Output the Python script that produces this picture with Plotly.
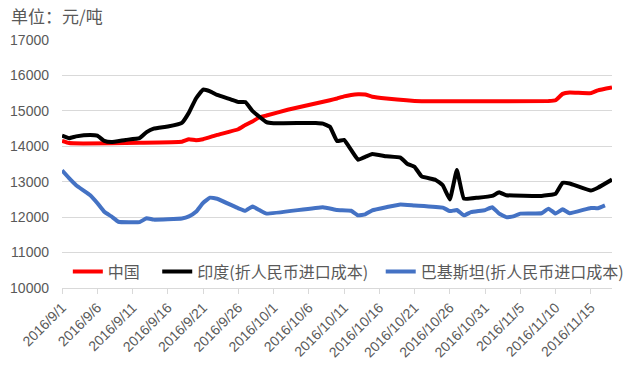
import plotly.graph_objects as go
import pandas as pd

# China
china_dates = ["2016-09-01","2016-09-02","2016-09-04","2016-09-12","2016-09-18","2016-09-19","2016-09-20",
               "2016-09-21","2016-09-23","2016-09-26","2016-09-27","2016-09-28","2016-09-29","2016-09-30",
               "2016-10-03","2016-10-09","2016-10-10","2016-10-11","2016-10-12","2016-10-13","2016-10-14",
               "2016-10-15","2016-10-17","2016-10-22","2016-10-28","2016-11-09","2016-11-10","2016-11-11",
               "2016-11-12","2016-11-15","2016-11-16","2016-11-18"]
china_vals = [14150,14090,14080,14100,14130,14200,14170,
              14200,14320,14480,14600,14700,14820,14870,
              15030,15300,15350,15410,15450,15470,15460,
              15400,15350,15270,15270,15280,15300,15480,
              15520,15500,15580,15660]

# India
india_dates = ["2016-09-01","2016-09-02","2016-09-03","2016-09-05","2016-09-06","2016-09-07","2016-09-08",
               "2016-09-10","2016-09-12","2016-09-13","2016-09-14","2016-09-16","2016-09-18","2016-09-19",
               "2016-09-20","2016-09-21","2016-09-22","2016-09-23","2016-09-25","2016-09-26","2016-09-27",
               "2016-09-28","2016-09-30","2016-10-01","2016-10-07","2016-10-08","2016-10-09","2016-10-10",
               "2016-10-11","2016-10-12","2016-10-13","2016-10-14","2016-10-15","2016-10-17","2016-10-19",
               "2016-10-20","2016-10-21","2016-10-22","2016-10-24","2016-10-25","2016-10-26","2016-10-27",
               "2016-10-28","2016-10-30","2016-11-01","2016-11-02","2016-11-03","2016-11-08","2016-11-10",
               "2016-11-11","2016-11-12","2016-11-15","2016-11-16","2016-11-18"]
india_vals = [14300,14230,14280,14320,14300,14150,14120,
              14180,14230,14400,14500,14560,14660,14950,
              15350,15600,15550,15450,15320,15250,15250,
              15000,14680,14650,14660,14640,14550,14150,
              14180,13900,13620,13700,13780,13720,13680,
              13500,13420,13150,13050,12900,12500,13330,
              12520,12550,12600,12700,12620,12600,12660,
              12970,12950,12750,12830,13060]

# Pakistan
pak_dates = ["2016-09-01","2016-09-02","2016-09-03","2016-09-05","2016-09-06","2016-09-07","2016-09-08",
             "2016-09-09","2016-09-12","2016-09-13","2016-09-14","2016-09-18","2016-09-19","2016-09-20",
             "2016-09-21","2016-09-22","2016-09-23","2016-09-26","2016-09-27","2016-09-28","2016-09-29",
             "2016-09-30","2016-10-08","2016-10-10","2016-10-12","2016-10-13","2016-10-14","2016-10-15",
             "2016-10-17","2016-10-19","2016-10-21","2016-10-25","2016-10-26","2016-10-27","2016-10-28",
             "2016-10-29","2016-10-31","2016-11-01","2016-11-02","2016-11-03","2016-11-04","2016-11-05",
             "2016-11-08","2016-11-09","2016-11-10","2016-11-11","2016-11-12","2016-11-15","2016-11-16",
             "2016-11-17"]
pak_vals = [13320,13100,12900,12620,12400,12150,12020,
            11870,11860,11970,11930,11960,12020,12150,
            12400,12550,12520,12250,12180,12300,12200,
            12100,12280,12200,12180,12050,12080,12190,
            12280,12360,12330,12270,12170,12200,12050,
            12140,12200,12280,12100,12000,12020,12100,
            12110,12240,12100,12220,12110,12260,12250,
            12330]

names = ["中国", "印度(折人民币进口成本)", "巴基斯坦(折人民币进口成本)"]
colors = ["#FF0000", "#000000", "#4472C4"]

y_ticks = [10000, 11000, 12000, 13000, 14000, 15000, 16000, 17000]
x_tick_dates = pd.date_range("2016-09-01", "2016-11-15", freq="5D")
x_tick_text = [f"{d.year}/{d.month}/{d.day}" for d in x_tick_dates]

FONT = "Liberation Sans, Noto Sans CJK SC, sans-serif"
CJK = "Noto Sans CJK SC, sans-serif"

L, R, T, B = 62, 13, 40, 79
W, H = 641, 367
PW = W - L - R

legend_ids = ["legend", "legend2", "legend3"]
legend_px = [68, 160, 390]   # left pixel of each legend entry

fig = go.Figure()
for dts, vals, nm, c, lid in [(china_dates, china_vals, names[0], colors[0], legend_ids[0]),
                              (india_dates, india_vals, names[1], colors[1], legend_ids[1]),
                              (pak_dates, pak_vals, names[2], colors[2], legend_ids[2])]:
    fig.add_trace(go.Scatter(x=dts, y=vals, mode="lines", name=nm, legend=lid,
                             line=dict(color=c, width=4, shape="spline", smoothing=0.3)))

leg_common = dict(orientation="h", yanchor="middle", xanchor="left",
                  bgcolor="rgba(255,255,255,0)", borderwidth=0,
                  font=dict(family=CJK, size=16, color="#595959"))
legend_layout = {}
for lid, px in zip(legend_ids, legend_px):
    legend_layout[lid] = dict(x=(px - L) / PW, y=0.066, **leg_common)

fig.update_layout(
    width=W, height=H,
    margin=dict(l=L, r=R, t=T, b=B),
    paper_bgcolor="white", plot_bgcolor="white",
    font=dict(family=FONT, size=14, color="#595959"),
    showlegend=True,
    annotations=[dict(text="单位：元/吨", xref="paper", yref="paper", x=(7 - L) / PW, y=1.0,
                      xanchor="left", yanchor="middle", yshift=T - 15, showarrow=False,
                      font=dict(family=CJK, size=17, color="#595959"))],
    **legend_layout,
)
fig.update_xaxes(type="date", range=["2016-09-01", "2016-11-18"], automargin=False,
                 tickvals=list(x_tick_dates), ticktext=x_tick_text, tickangle=-45,
                 showgrid=False, showline=True, linecolor="#d9d9d9", linewidth=1,
                 ticks="outside", ticklen=5, tickcolor="#d9d9d9",
                 tickfont=dict(family=FONT, size=14, color="#595959"))
fig.update_yaxes(range=[10000, 17000], tickvals=y_ticks, ticktext=[str(v) for v in y_ticks],
                 automargin=False,
                 showgrid=True, gridcolor="#d9d9d9", gridwidth=1, zeroline=False,
                 showline=False, ticks="", ticklabelstandoff=12,
                 tickfont=dict(family=FONT, size=14, color="#595959"))

fig.write_html("out.html", config={"displayModeBar": False},
               post_script="document.body.style.margin='0';document.body.style.overflow='hidden';")
